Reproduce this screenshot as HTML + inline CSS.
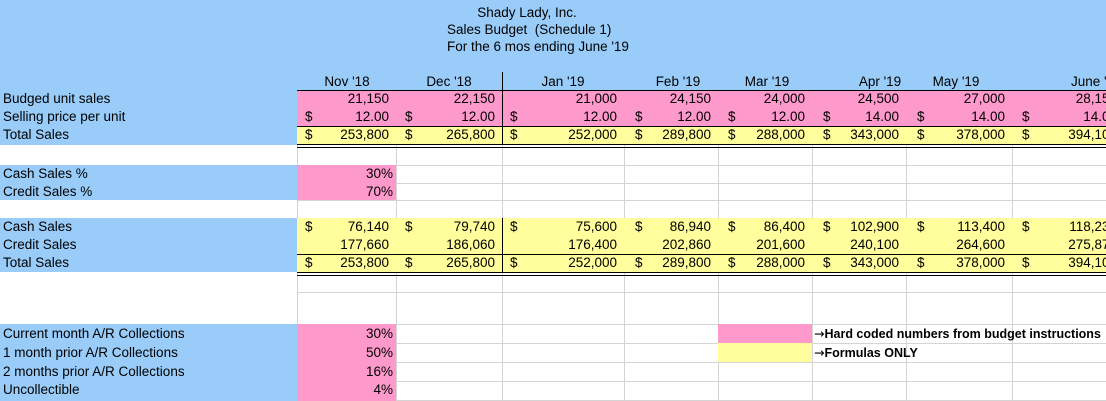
<!DOCTYPE html>
<html><head><meta charset="utf-8"><style>
body{margin:0;width:1106px;height:401px;overflow:hidden;background:#fff;font-family:"Liberation Sans",Arial,sans-serif;font-size:13.5px;color:#000;position:relative}
.a{position:absolute;box-sizing:border-box}
.t{position:absolute;white-space:nowrap;line-height:18px}
</style></head><body>
<div id="r"></div>
<script>
var H='';
function box(x,y,w,h,c){H+='<div class="a" style="left:'+x+'px;top:'+y+'px;width:'+w+'px;height:'+h+'px;background:'+c+'"></div>';}
function txt(x,y,s,al,extra){ if(al=='r') H+='<div class="t" style="right:'+(1106-x)+'px;top:'+y+'px;'+(extra||'')+'">'+s+'</div>'; else if(al=='c') H+='<div class="t" style="left:'+(x-80)+'px;width:160px;text-align:center;top:'+y+'px;'+(extra||'')+'">'+s+'</div>'; else H+='<div class="t" style="left:'+x+'px;top:'+y+'px;'+(extra||'')+'">'+s+'</div>';}
var BL='#99ccf9',PK='#fe99cb',YL='#fffd9c',GR='#d4d4d4';
var cols=[297,396,502,624,718,812,906,1012,1120];
for(var i=0;i<cols.length;i++) box(cols[i],145,1,256,GR);
[165,183,200,218,272,292,324,343,362,381,400].forEach(function(y){box(297,y,809,1,GR);});
box(0,0,1106,90,BL);
box(0,90,297,55,BL);
box(0,165,297,35,BL);
box(0,218,297,54,BL);
box(0,324,297,77,BL);
box(297,90,809,36,PK);
box(297,126,809,18,YL);
box(297,90,809,1,'#000');box(297,126,809,1,'#000');box(297,144,809,1,'#000');box(297,147,809,1,'#000');
box(502,72,1,73,'#000');
box(297,165,99,35,PK);
box(297,324,99,77,PK);
box(297,218,809,54,YL);
box(297,254,809,1,'#000');box(297,272,809,1,'#000');box(297,275,809,1,'#000');
box(502,218,1,55,'#000');
box(718,324,94,19,PK);box(718,343,94,19,YL);
txt(527,4,'Shady Lady, Inc.','c');txt(527,21,'Sales Budget&nbsp; (Schedule 1)','c');txt(527,38,'For the 6 mos ending June \'19','c');
var mon=["Nov '18","Dec '18","Jan '19","Feb '19","Mar '19","Apr '19","May '19"];
var mc=[347,449,563,678,767,880,956];
for(var i=0;i<7;i++) txt(mc[i],73,mon[i],'c');
txt(1071,73,"June '19");
var L=[[90,'Budged unit sales'],[108,'Selling price per unit'],[126,'Total Sales'],[165,'Cash Sales %'],[183,'Credit Sales %'],[218,'Cash Sales'],[236,'Credit Sales'],[254,'Total Sales'],[325,'Current month A/R Collections'],[344,'1 month prior A/R Collections'],[363,'2 months prior A/R Collections'],[381,'Uncollectible']];
L.forEach(function(l){txt(3,l[0],l[1]);});
var ends=[389,495,617,711,805,899,1005,1117];
var dl=[305,405,510,635,728,823,917,1022];
var D=[
[90,['21,150','22,150','21,000','24,150','24,000','24,500','27,000','28,150'],0],
[108,['12.00','12.00','12.00','12.00','12.00','14.00','14.00','14.00'],1],
[126,['253,800','265,800','252,000','289,800','288,000','343,000','378,000','394,100'],1],
[218,['76,140','79,740','75,600','86,940','86,400','102,900','113,400','118,230'],1],
[236,['177,660','186,060','176,400','202,860','201,600','240,100','264,600','275,870'],0],
[254,['253,800','265,800','252,000','289,800','288,000','343,000','378,000','394,100'],1]];
D.forEach(function(r){for(var i=0;i<8;i++){txt(ends[i],r[0],r[1][i],'r');if(r[2])txt(dl[i],r[0],'$');}});
[[165,'30%'],[183,'70%'],[325,'30%'],[344,'50%'],[363,'16%'],[381,'4%']].forEach(function(p){txt(393,p[0],p[1],'r');});
txt(814,325,'<span style="font-family:\'DejaVu Sans\';font-weight:normal">&#8594;</span>Hard coded numbers from budget instructions','l','font-size:12.5px;font-weight:bold');
txt(814,344,'<span style="font-family:\'DejaVu Sans\';font-weight:normal">&#8594;</span>Formulas ONLY','l','font-size:12.5px;font-weight:bold');
document.getElementById('r').innerHTML=H;
</script>
</body></html>
